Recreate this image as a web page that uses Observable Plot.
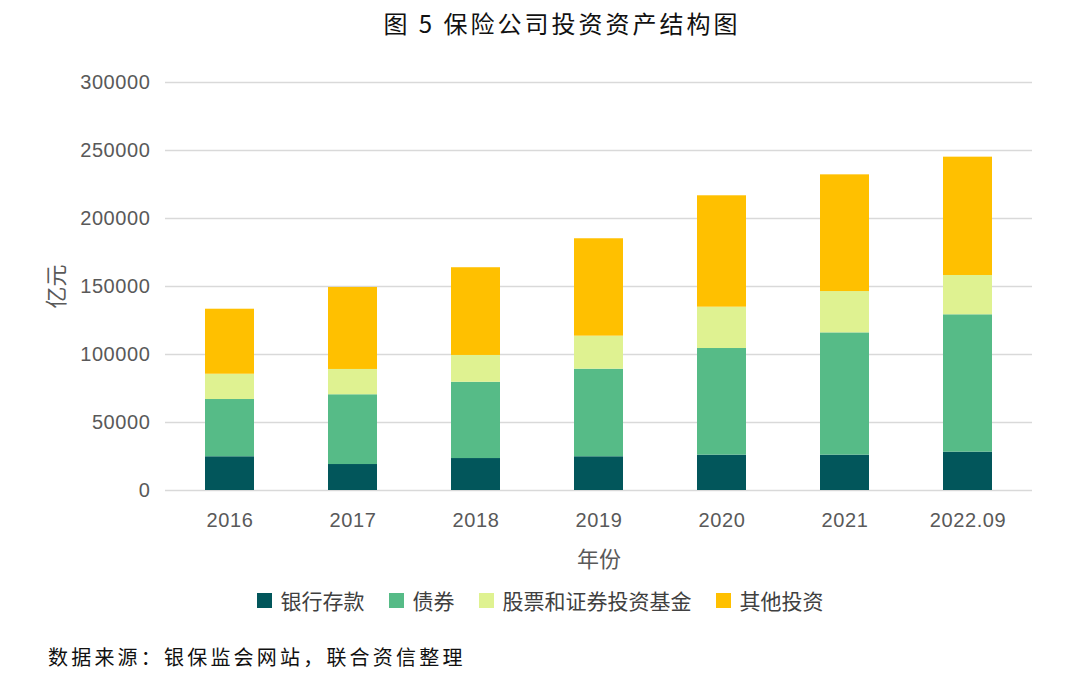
<!DOCTYPE html>
<html>
<head>
<meta charset="utf-8">
<script src="https://cdn.jsdelivr.net/npm/d3@7"></script>
<script src="https://cdn.jsdelivr.net/npm/@observablehq/plot@0.6"></script>
<style>
  body { margin: 0; background: #fff; width: 1080px; height: 677px; overflow: hidden;
         font-family: "Liberation Sans", "Noto Sans CJK SC", sans-serif; }
  #title { height: 50px; line-height: 46px; text-align: center; font-size: 24px; color: #111;
           font-family: "Noto Sans CJK SC", sans-serif; padding-left: 44px; letter-spacing: 3px; }
  #legend { height: 40px; display: flex; justify-content: center; align-items: center; gap: 24px;
            font-size: 21px; color: #404040; font-family: "Noto Sans CJK SC", sans-serif; padding-left: 0px; }
  .item { display: flex; align-items: center; gap: 9px; }
  .sw { width: 15px; height: 15px; display: inline-block; }
  #caption { position: absolute; left: 48px; top: 642px; font-size: 20px; color: #111;
             font-family: "Noto Sans CJK SC", sans-serif; letter-spacing: 3.2px; }
</style>
</head>
<body>
<div id="title">图 5 保险公司投资资产结构图</div>
<div id="chart"></div>
<div id="legend"></div>
<div id="caption">数据来源：银保监会网站，联合资信整理</div>
<script>
const years = ["2016", "2017", "2018", "2019", "2020", "2021", "2022.09"];
const seriesNames = ["银行存款", "债券", "股票和证券投资基金", "其他投资"];
const deposits = [24800, 19100, 23500, 24800, 26000, 26000, 28200];
const bonds = [42100, 51300, 56100, 64400, 78400, 89900, 101000];
const stocksFunds = [18600, 18600, 19700, 24300, 30400, 30400, 28900];
const others = [47800, 60300, 64500, 71600, 81900, 85800, 87000];
const colors = ["#02565B", "#56BB87", "#DFF291", "#FFC000"];
const yTicks = [0, 50000, 100000, 150000, 200000, 250000, 300000];

const seriesValues = [deposits, bonds, stocksFunds, others];
const data = [];
seriesValues.forEach((vals, si) => {
  years.forEach((yr, i) => data.push({year: yr, series: seriesNames[si], value: vals[i]}));
});

const chart = Plot.plot({
  width: 1080,
  height: 530,
  marginTop: 32,
  marginBottom: 90,
  marginLeft: 165,
  marginRight: 48,
  style: {fontFamily: '"Liberation Sans", "Noto Sans CJK SC", sans-serif', fontSize: "20px", color: "#595959", background: "#fff"},
  x: {domain: years, paddingInner: 0.6, paddingOuter: 0.3},
  y: {domain: [0, 300000]},
  color: {domain: seriesNames, range: colors},
  marks: [
    Plot.gridY(yTicks, {stroke: "#d9d9d9", strokeOpacity: 1, strokeWidth: 1.5}),
    Plot.barY(data, {x: "year", y: "value", fill: "series"}),
    Plot.axisY(yTicks, {tickSize: 0, tickPadding: 15, tickFormat: d => String(d),
      label: "亿元", labelAnchor: "center", labelArrow: "none", labelOffset: 117,
      fontSize: 20}),
    Plot.axisX({tickSize: 0, tickPadding: 22, label: "年份", labelAnchor: "center",
      labelArrow: "none", labelOffset: 76, fontSize: 20})
  ]
});
chart.querySelectorAll("g[aria-label='y-axis tick label'] text, g[aria-label='x-axis tick label'] text").forEach(t => {
  t.style.letterSpacing = "0.6px";
});
chart.querySelectorAll("g[aria-label='y-axis label'] text, g[aria-label='x-axis label'] text").forEach(t => {
  t.style.fontSize = "22px";
  t.style.fontFamily = '"Noto Sans CJK SC", sans-serif';
  t.style.fill = "#595959";
});
document.getElementById("chart").appendChild(chart);

const legend = document.getElementById("legend");
seriesNames.forEach((n, i) => {
  const it = document.createElement("div");
  it.className = "item";
  it.innerHTML = `<span class="sw" style="background:${colors[i]}"></span><span>${n}</span>`;
  legend.appendChild(it);
});
</script>
</body>
</html>
